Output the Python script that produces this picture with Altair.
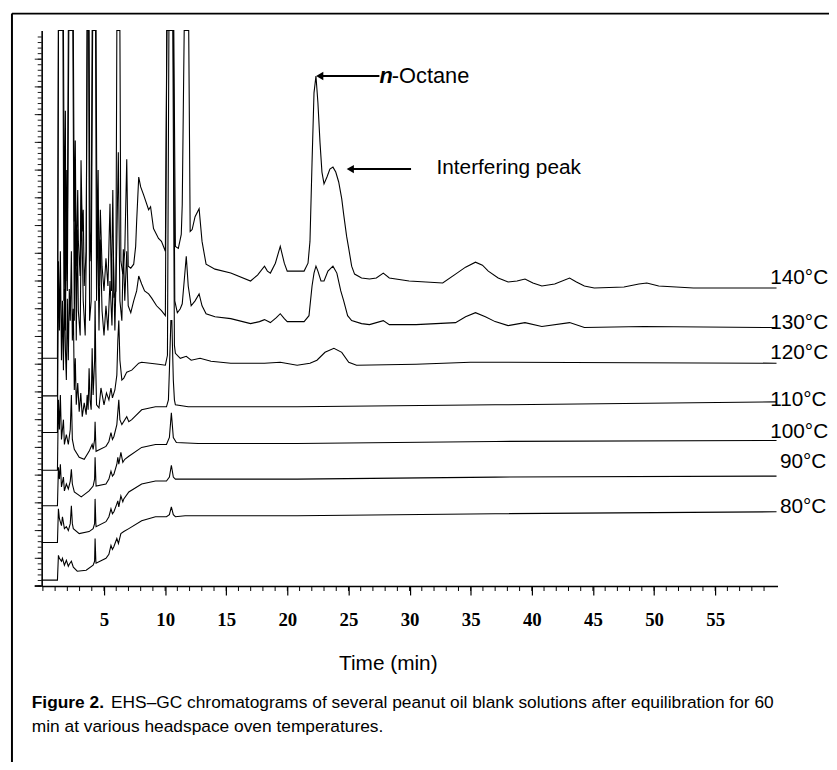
import altair as alt
import pandas as pd

# ---- chromatogram traces (time in min, detector signal in relative units, stacked as drawn) ----
t_80 = [-0.1, 1.19, 1.27, 1.35, 1.52, 1.60, 1.76, 1.92, 2.08, 2.16, 2.33, 2.49, 2.81, 3.54, 4.11, 4.23, 4.27, 4.33, 4.35,
        5.16, 5.40, 5.57, 5.69, 5.81, 6.05, 6.18, 6.38, 6.62, 7.03, 8.08, 9.21, 10.11, 10.35, 10.51, 10.67, 10.84, 11.64,
        20.8, 37.0, 60.02]
s_80 = [6, 6, 31, 28, 25, 28, 21, 26, 20, 22, 25, 19, 15, 16, 21, 25, 48, 26, 23,
        28, 32, 41, 37, 40, 48, 43, 53, 55, 58, 66, 70, 70, 72, 80, 72, 70, 71,
        71, 73, 75]

t_90 = [-0.1, 1.19, 1.27, 1.35, 1.52, 1.60, 1.76, 1.92, 2.08, 2.24, 2.33, 2.41, 2.49, 2.97, 3.78, 4.11, 4.23, 4.27, 4.33,
        4.35, 5.16, 5.40, 5.57, 5.69, 5.81, 6.05, 6.13, 6.21, 6.38, 6.54, 6.62, 7.03, 8.08, 9.21, 10.11, 10.35, 10.51,
        10.67, 10.84, 11.64, 20.8, 37.0, 60.02]
s_90 = [44, 44, 78, 68, 61, 70, 58, 60, 56, 63, 81, 63, 58, 53, 55, 58, 63, 88, 64,
        60, 65, 70, 78, 73, 75, 83, 86, 80, 91, 85, 88, 95, 103, 106, 106, 110, 122,
        110, 108, 108, 108, 110, 111]

t_100 = [-0.1, 1.19, 1.27, 1.35, 1.43, 1.52, 1.68, 1.76, 1.92, 2.08, 2.24, 2.33, 2.41, 2.57, 3.14, 3.78, 4.11, 4.23,
         4.27, 4.33, 4.35, 5.16, 5.40, 5.57, 5.69, 5.81, 6.05, 6.13, 6.21, 6.38, 6.54, 6.70, 7.03, 8.08, 9.21, 10.11,
         10.35, 10.51, 10.67, 10.92, 12.7, 20.8, 37.0, 60.02]
s_100 = [81, 81, 120, 108, 123, 100, 110, 96, 103, 98, 106, 118, 103, 95, 90, 96, 101, 108,
         130, 108, 101, 103, 108, 116, 111, 113, 123, 130, 123, 135, 125, 128, 131, 140, 143, 143,
         150, 175, 150, 145, 144, 144, 146, 147]

t_110 = [-0.1, 1.19, 1.27, 1.35, 1.43, 1.52, 1.68, 1.76, 1.92, 2.08, 2.24, 2.33, 2.41, 2.57, 2.97, 3.38, 3.78, 4.03,
         4.11, 4.23, 4.27, 4.33, 4.35, 5.16, 5.40, 5.57, 5.69, 5.81, 6.05, 6.21, 6.30, 6.46, 6.86, 7.03, 7.27, 8.08,
         9.21, 10.11, 10.27, 10.35, 10.47, 10.55, 10.67, 10.76, 10.84, 11.89, 20.8, 37.0, 60.02]
s_110 = [117, 117, 188, 158, 193, 148, 168, 143, 153, 143, 158, 193, 148, 138, 130, 128, 136, 143,
         138, 148, 166, 143, 136, 141, 146, 155, 148, 151, 163, 188, 168, 163, 171, 166, 168, 178,
         181, 181, 188, 218, 268, 268, 208, 188, 183, 181, 181, 183, 186]

t_120 = [-0.1, 1.19, 1.27, 1.35, 1.43, 1.52, 1.60, 1.68, 1.76, 1.84, 1.92, 2.0, 2.08, 2.16, 2.24, 2.33, 2.41, 2.49,
         2.57, 2.65, 2.73, 2.85, 2.97, 3.1, 3.22, 3.38, 3.54, 3.62, 3.70, 3.78, 3.86, 3.95, 4.03, 4.11, 4.23, 4.27,
         4.33, 4.39, 4.59, 4.75, 5.0, 5.2, 5.40, 5.57, 5.69, 5.89, 6.05, 6.13, 6.21, 6.30, 6.46, 6.62, 6.86, 7.27,
         7.84, 8.08, 9.46, 10.02, 10.19, 10.31, 10.63, 10.76, 10.84, 11.24, 11.73, 12.13, 12.86, 13.75, 15.37,
         18.13, 19.42, 20.8, 21.85, 22.42, 23.08, 23.81, 24.45, 25.02, 25.66, 30.53, 34.98, 35.8, 60.02]
s_120 = [155, 155, 328, 258, 338, 228, 288, 218, 300, 240, 208, 290, 228, 300, 268, 338, 248, 280,
         198, 230, 183, 205, 176, 195, 171, 185, 173, 193, 178, 220, 188, 178, 240, 193, 228, 288,
         218, 183, 180, 200, 183, 195, 188, 200, 190, 198, 213, 248, 268, 228, 208, 210, 216, 218,
         225, 226, 224, 223, 233, 561, 561, 243, 235, 230, 232, 228, 230, 227, 225,
         225, 226, 223, 225, 228, 236, 240, 236, 226, 223, 224, 226, 226, 225]

t_130 = [-0.1, 1.19, 1.27, 1.64, 1.72, 1.78, 1.84, 1.92, 2.0, 2.12, 2.45, 2.57, 2.65, 2.73, 2.82, 2.9, 3.05, 3.15,
         3.30, 3.46, 3.54, 3.62, 3.74, 3.82, 3.95, 4.07, 4.31, 4.39, 4.47, 4.59, 4.7, 4.84, 5.0, 5.16, 5.32, 5.49,
         5.65, 5.77, 5.89, 6.05, 6.17, 6.30, 6.46, 6.58, 6.70, 6.86, 6.98, 7.19, 7.43, 7.67, 7.84, 8.08, 8.32, 8.65,
         8.89, 9.3, 9.70, 10.02, 10.14, 10.67, 10.79, 11.0, 11.24, 11.40, 11.56, 11.73, 11.89, 12.13, 12.45, 12.78,
         13.02, 13.35, 14.08, 15.37, 16.99, 17.72, 18.13, 18.61, 19.10, 19.42, 19.75, 19.99, 21.37, 21.77, 22.02,
         22.18, 22.34, 22.50, 22.75, 23.0, 23.32, 23.73, 24.05, 24.37, 24.61, 24.93, 25.26, 26.07, 26.72, 27.85,
         28.34, 30.53, 33.76, 34.58, 35.39, 36.2, 37.0, 38.06, 39.44, 40.82, 43.09, 44.30, 49.16, 60.02]
s_130 = [192, 192, 561, 561, 288, 420, 258, 380, 298, 561, 561, 268, 400, 248, 360, 278, 253, 390,
         288, 253, 330, 561, 561, 268, 288, 561, 561, 288, 380, 258, 350, 278, 253, 283, 258, 308,
         263, 330, 258, 348, 438, 288, 268, 340, 288, 338, 283, 276, 288, 298, 313, 305, 298, 295,
         291, 283, 278, 273, 561, 561, 288, 276, 280, 285, 308, 333, 303, 283, 288, 295,
         283, 275, 272, 270, 265, 267, 269, 266, 271, 275, 270, 267, 267, 273, 303,
         316, 323, 318, 308, 308, 318, 323, 316, 298, 288, 273, 268, 265, 264, 268,
         264, 264, 266, 272, 276, 272, 267, 263, 266, 262, 266, 261, 262, 261]

t_140 = [-0.1, 1.19, 1.27, 1.68, 1.76, 1.84, 1.88, 1.96, 2.0, 2.08, 2.49, 2.57, 2.65, 2.73, 2.85, 2.9, 3.05, 3.12,
         3.22, 3.30, 3.38, 3.54, 3.62, 3.78, 3.86, 3.95, 4.03, 4.35, 4.43, 4.52, 4.59, 4.7, 4.84, 5.0, 5.16, 5.32,
         5.49, 5.61, 5.72, 5.81, 5.97, 6.05, 6.30, 6.38, 6.54, 6.70, 6.86, 6.98, 7.19, 7.43, 7.59, 7.67, 7.84, 8.0,
         8.24, 8.65, 8.81, 9.05, 9.46, 9.70, 10.02, 10.14, 10.71, 10.84, 11.08, 11.32, 11.40, 11.56, 11.93, 12.05,
         12.21, 12.45, 12.78, 13.02, 13.35, 14.08, 15.37, 16.99, 17.56, 18.13, 18.37, 18.61, 19.02, 19.42, 19.75,
         19.99, 21.37, 21.69, 21.85, 22.02, 22.18, 22.34, 22.50, 22.67, 22.83, 23.0, 23.24, 23.48, 23.73, 23.96,
         24.2, 24.45, 24.61, 24.85, 25.02, 25.26, 25.50, 26.07, 26.72, 27.28, 27.85, 28.34, 29.96, 32.71, 33.76,
         34.58, 35.39, 35.96, 36.44, 37.25, 38.06, 38.79, 39.44, 40.09, 40.82, 41.87, 43.09, 43.65, 44.30, 45.11,
         47.54, 48.76, 49.41, 50.38, 53.22, 60.02]
s_140 = [230, 230, 561, 561, 358, 480, 308, 420, 348, 561, 561, 368, 450, 323, 400, 348, 313, 430,
         358, 380, 303, 338, 561, 561, 328, 358, 561, 561, 338, 420, 303, 380, 323, 298, 331, 303,
         386, 298, 400, 291, 298, 561, 561, 328, 315, 338, 431, 323, 321, 325, 343, 368, 413, 403,
         395, 380, 383, 361, 351, 348, 338, 561, 561, 343, 341, 355, 385, 561, 561, 358,
         360, 373, 381, 348, 325, 320, 316, 308, 314, 323, 318, 316, 326, 343, 326,
         318, 318, 326, 348, 428, 498, 515, 488, 448, 418, 406, 413, 421, 423, 418,
         408, 391, 375, 353, 341, 323, 315, 311, 310, 311, 316, 311, 308, 306, 315,
         322, 327, 324, 318, 311, 307, 308, 310, 306, 303, 305, 311, 307, 303, 301,
         302, 305, 306, 303, 301, 301]

traces = [("80°C", t_80, s_80), ("90°C", t_90, s_90), ("100°C", t_100, s_100), ("110°C", t_110, s_110),
          ("120°C", t_120, s_120), ("130°C", t_130, s_130), ("140°C", t_140, s_140)]

# ---- labels and annotations ----
temp_labels = ["140°C", "130°C", "120°C", "110°C", "100°C", "90°C", "80°C"]
temp_label_time = [59.5, 59.5, 59.5, 59.5, 59.5, 60.3, 60.3]
temp_label_signal = [311, 266, 235, 188, 155, 125, 80]

x_major = [5, 10, 15, 20, 25, 30, 35, 40, 45, 50, 55]
x_minor = list(range(0, 60))
y_ticks = [round(i * 5.6, 1) for i in range(100)]
y_ticks_long = y_ticks[::5]

rows = []
for name, ts, ss in traces:
    for i, (t, s) in enumerate(zip(ts, ss)):
        rows.append({"trace": name, "time": t, "signal": s, "order": i})
df = pd.DataFrame(rows)

xs = alt.Scale(domain=[-0.1, 60.1], nice=False, zero=False)
ys = alt.Scale(domain=[0, 561], nice=False, zero=False)

lines = alt.Chart(df).mark_line(color="black", strokeWidth=1.1).encode(
    x=alt.X("time:Q", scale=xs, axis=alt.Axis(values=x_major, title=None, tickSize=9, tickWidth=1.2,
                                              labelFont="Liberation Serif", labelFontWeight="bold",
                                              labelFontSize=19, labelPadding=16, labelColor="black",
                                              domainColor="black", domainWidth=1.6, tickColor="black",
                                              grid=False, labelFlush=False)),
    y=alt.Y("signal:Q", scale=ys, axis=alt.Axis(values=[0], labels=False, title=None, ticks=False,
                                                domainColor="black", domainWidth=1.6, grid=False)),
    detail="trace:N",
    order="order:Q",
)

minor = alt.Chart(pd.DataFrame({"time": x_minor})).mark_rule(color="black", strokeWidth=1).encode(
    x=alt.X("time:Q", scale=xs), y=alt.value(561), y2=alt.value(566))

yt = alt.Chart(pd.DataFrame({"signal": y_ticks})).mark_rule(color="black", strokeWidth=0.9).encode(
    y=alt.Y("signal:Q", scale=ys), x=alt.value(-4), x2=alt.value(0))
yt_long = alt.Chart(pd.DataFrame({"signal": y_ticks_long})).mark_rule(color="black", strokeWidth=0.9).encode(
    y=alt.Y("signal:Q", scale=ys), x=alt.value(-7), x2=alt.value(0))

axis_stub = alt.Chart(pd.DataFrame({"a": [0]})).mark_rule(color="black", strokeWidth=1.6).encode(
    x=alt.value(-7), x2=alt.value(0), y=alt.value(561))

tl = alt.Chart(pd.DataFrame({"label": temp_labels, "time": temp_label_time, "signal": temp_label_signal})).mark_text(
    align="left", baseline="middle", font="Liberation Sans", fontSize=21, color="black").encode(
    x=alt.X("time:Q", scale=xs), y=alt.Y("signal:Q", scale=ys), text="label:N")

# arrows
arrow_df = pd.DataFrame({"t1": [22.65, 25.15], "t2": [27.53, 30.12], "s": [515, 421]})
arrow_lines = alt.Chart(arrow_df).mark_rule(color="black", strokeWidth=2).encode(
    x=alt.X("t1:Q", scale=xs), x2="t2:Q", y=alt.Y("s:Q", scale=ys))
arrow_heads = alt.Chart(arrow_df).mark_point(shape="triangle-left", filled=True, color="black", size=70,
                                             opacity=1).encode(
    x=alt.X("t1:Q", scale=xs), y=alt.Y("s:Q", scale=ys))

ann_n = alt.Chart(pd.DataFrame({"time": [27.53], "signal": [515], "label": ["n"]})).mark_text(
    align="left", baseline="middle", font="Liberation Sans", fontSize=22, fontStyle="italic",
    fontWeight="bold", color="black").encode(x=alt.X("time:Q", scale=xs), y=alt.Y("signal:Q", scale=ys),
                                             text="label:N")
ann_oct = alt.Chart(pd.DataFrame({"time": [28.55], "signal": [515], "label": ["-Octane"]})).mark_text(
    align="left", baseline="middle", font="Liberation Sans", fontSize=22, color="black").encode(
    x=alt.X("time:Q", scale=xs), y=alt.Y("signal:Q", scale=ys), text="label:N")
ann_int = alt.Chart(pd.DataFrame({"time": [32.2], "signal": [422], "label": ["Interfering peak"]})).mark_text(
    align="left", baseline="middle", font="Liberation Sans", fontSize=21, color="black").encode(
    x=alt.X("time:Q", scale=xs), y=alt.Y("signal:Q", scale=ys), text="label:N")

one = pd.DataFrame({"a": [0]})
x_title = alt.Chart(one).mark_text(align="center", baseline="middle", font="Liberation Sans", fontSize=21,
                                   color="black").encode(x=alt.value(350), y=alt.value(640),
                                                         text=alt.value("Time (min)"))
cap_font = "Liberation Sans"
cap_bold = alt.Chart(one).mark_text(align="left", baseline="middle", font=cap_font, fontSize=17.5,
                                    fontWeight="bold", color="black").encode(
    x=alt.value(-10), y=alt.value(679), text=alt.value("Figure 2."))
cap_1 = alt.Chart(one).mark_text(align="left", baseline="middle", font=cap_font, fontSize=17.5,
                                 color="black").encode(
    x=alt.value(70), y=alt.value(679),
    text=alt.value("EHS\u2013GC chromatograms of several peanut oil blank solutions after equilibration for 60"))
cap_2 = alt.Chart(one).mark_text(align="left", baseline="middle", font=cap_font, fontSize=17.5,
                                 color="black").encode(
    x=alt.value(-10), y=alt.value(703), text=alt.value("min at various headspace oven temperatures."))

frame_left = alt.Chart(one).mark_rule(color="black", strokeWidth=2).encode(
    x=alt.value(-30), y=alt.value(-17), y2=alt.value(760))
frame_top = alt.Chart(one).mark_rule(color="black", strokeWidth=2).encode(
    x=alt.value(-30), x2=alt.value(800), y=alt.value(-17))

chart = alt.layer(lines, minor, yt, yt_long, axis_stub, tl, arrow_lines, arrow_heads, ann_n, ann_oct, ann_int,
                  x_title, cap_bold, cap_1, cap_2, frame_left, frame_top).properties(
    width=743, height=561, autosize=alt.AutoSizeParams(type="none"),
    padding={"left": 34, "top": 19, "right": 52, "bottom": 174},
    background="white",
).configure_view(stroke=None)

chart.save("out.html", embed_options={"renderer": "svg", "actions": False})
